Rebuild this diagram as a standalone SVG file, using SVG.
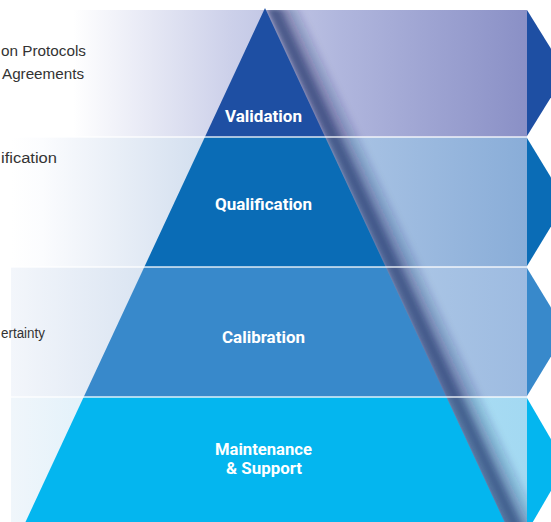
<svg xmlns="http://www.w3.org/2000/svg" width="551" height="522" viewBox="0 0 551 522">
  <style>
    .lbl { font-family: Roboto, "Liberation Sans", sans-serif; font-weight: bold; font-size: 17px; fill: #ffffff; text-anchor: middle; }
    .side { font-family: "Liberation Sans", Arial, sans-serif; font-size: 15.5px; fill: #333333; }
    .sep { stroke: #ffffff; stroke-width: 1.6; stroke-opacity: 0.85; }
  </style>
  <defs>
    <linearGradient id="g1" gradientUnits="userSpaceOnUse" x1="11" y1="0" x2="527" y2="0">
      <stop offset="0" stop-color="#ffffff"/>
      <stop offset="0.12" stop-color="#ffffff"/>
      <stop offset="0.42" stop-color="#cdd1ea"/>
      <stop offset="0.64" stop-color="#b0b6dd"/>
      <stop offset="1" stop-color="#8a90c6"/>
    </linearGradient>
    <linearGradient id="g2" gradientUnits="userSpaceOnUse" x1="11" y1="0" x2="527" y2="0">
      <stop offset="0" stop-color="#ffffff"/>
      <stop offset="0.06" stop-color="#fbfcfe"/>
      <stop offset="0.35" stop-color="#d6e1f0"/>
      <stop offset="0.68" stop-color="#a6c1e3"/>
      <stop offset="1" stop-color="#89add8"/>
    </linearGradient>
    <linearGradient id="g3" gradientUnits="userSpaceOnUse" x1="11" y1="0" x2="527" y2="0">
      <stop offset="0" stop-color="#f3f6fb"/>
      <stop offset="0.25" stop-color="#dbe5f2"/>
      <stop offset="0.78" stop-color="#aac5e5"/>
      <stop offset="1" stop-color="#9dbbe1"/>
    </linearGradient>
    <linearGradient id="g4" gradientUnits="userSpaceOnUse" x1="11" y1="0" x2="527" y2="0">
      <stop offset="0" stop-color="#f0f6fb"/>
      <stop offset="0.15" stop-color="#e2f1fa"/>
      <stop offset="0.85" stop-color="#aadcf3"/>
      <stop offset="1" stop-color="#a3d9f2"/>
    </linearGradient>
    <!-- gradient perpendicular to the pyramid's right edge -->
    <linearGradient id="shade" gradientUnits="userSpaceOnUse" x1="265" y1="8" x2="296" y2="-6.5">
      <stop offset="0" stop-color="#15235e" stop-opacity="0.55"/>
      <stop offset="0.25" stop-color="#15235e" stop-opacity="0.7"/>
      <stop offset="0.55" stop-color="#15235e" stop-opacity="0.3"/>
      <stop offset="1" stop-color="#15235e" stop-opacity="0"/>
    </linearGradient>
    <filter id="blur" x="-50%" y="-10%" width="200%" height="120%">
      <feGaussianBlur stdDeviation="2.5"/>
    </filter>
    <clipPath id="bandsClip">
      <rect x="11" y="10" width="516" height="520"/>
    </clipPath>
  </defs>

  <!-- background bands -->
  <g id="bands">
    <rect x="11" y="10" width="516" height="127" fill="url(#g1)"/>
    <rect x="11" y="137" width="516" height="130" fill="url(#g2)"/>
    <rect x="11" y="267" width="516" height="130" fill="url(#g3)"/>
    <rect x="11" y="397" width="516" height="130" fill="url(#g4)"/>
  </g>

  <!-- fold shadow along the right side of the pyramid -->
  <g id="shadow" clip-path="url(#bandsClip)">
    <polygon points="265,8 305,8 547,530 505,530" fill="url(#shade)" filter="url(#blur)"/>
  </g>

  <!-- right chevrons -->
  <g id="chevrons">
    <polygon points="527,10 566,73 527,136" fill="#1e4fa3"/>
    <polygon points="527,138 566,202 527,266" fill="#0a6cb6"/>
    <polygon points="527,268 566,332 527,396" fill="#3889cb"/>
    <polygon points="527,398 566,465 527,532" fill="#04b6ef"/>
  </g>

  <g id="node-validation">
    <polygon points="265,8 325.1,137 204.9,137" fill="#1e4fa3"/>
    <text class="lbl" x="263.5" y="122" textLength="77" lengthAdjust="spacingAndGlyphs">Validation</text>
  </g>
  <g id="node-qualification">
    <polygon points="204.9,137 325.1,137 385.7,267 144.3,267" fill="#0a6cb6"/>
    <text class="lbl" x="263.5" y="210" textLength="97" lengthAdjust="spacingAndGlyphs">Qualification</text>
  </g>
  <g id="node-calibration">
    <polygon points="144.3,267 385.7,267 446.3,397 83.7,397" fill="#3889cb"/>
    <text class="lbl" x="263.5" y="343" textLength="83" lengthAdjust="spacingAndGlyphs">Calibration</text>
  </g>
  <g id="node-maintenance">
    <polygon points="83.7,397 446.3,397 504.5,522 25.5,522" fill="#04b6ef"/>
    <text class="lbl" x="263.5" y="455" textLength="97" lengthAdjust="spacingAndGlyphs">Maintenance</text>
    <text class="lbl" x="264" y="474" textLength="76" lengthAdjust="spacingAndGlyphs">&amp; Support</text>
  </g>

  <!-- band separators -->
  <g id="separators">
    <line class="sep" x1="11" y1="137" x2="527" y2="137"/>
    <line class="sep" x1="11" y1="267" x2="527" y2="267"/>
    <line class="sep" x1="11" y1="397" x2="527" y2="397"/>
  </g>

  <!-- side descriptions (as cut off at the left edge) -->
  <g id="side-texts">
    <text class="side" x="1" y="56" textLength="85" lengthAdjust="spacingAndGlyphs">on Protocols</text>
    <text class="side" x="2" y="79" textLength="82" lengthAdjust="spacingAndGlyphs">Agreements</text>
    <text class="side" x="1" y="163" textLength="56" lengthAdjust="spacingAndGlyphs">ification</text>
    <text class="side" x="1" y="338" textLength="44" lengthAdjust="spacingAndGlyphs">ertainty</text>
  </g>
</svg>
